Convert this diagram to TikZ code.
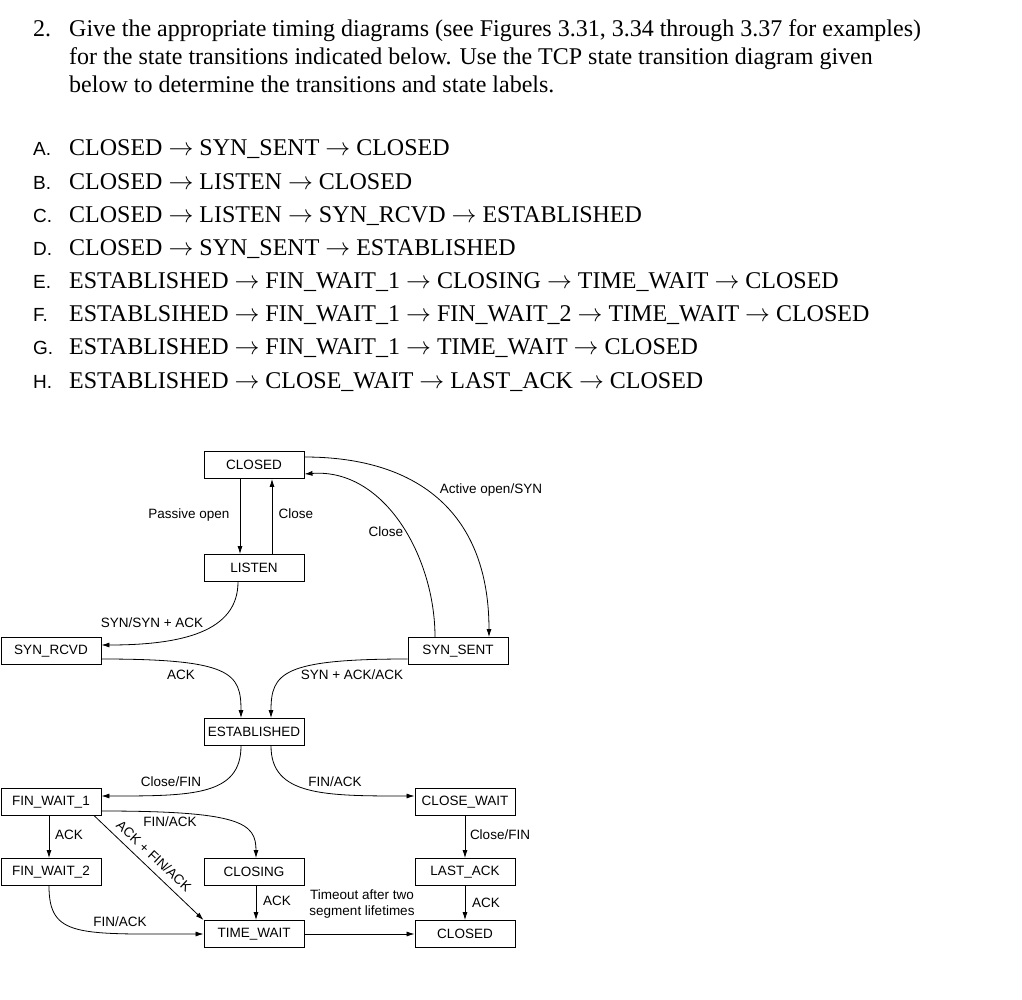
\documentclass[tikz,border=0pt]{standalone}
\usepackage{fontspec}
\setmainfont{Liberation Serif}
\newfontfamily\diagfont{Liberation Sans}
\usetikzlibrary{arrows.meta, positioning}
\tikzset{
  state_box/.style={rectangle, draw=black, line width=0.9pt, minimum width=100pt, minimum height=27pt, inner sep=1pt, font=\diagfont\fontsize{13.5}{15}\selectfont},
  edge_label/.style={inner sep=0pt, align=center, font=\diagfont\fontsize{13.5}{15}\selectfont},
  arrow/.style={-{Latex[length=8pt, width=5pt]}, line width=0.8pt, black},
  task_text/.style={anchor=base west, inner sep=0pt, font=\fontsize{24}{28}\selectfont},
  task_letter/.style={anchor=base west, inner sep=0pt, font=\diagfont\fontsize{19}{22}\selectfont}
}
\newcommand{\tto}{ $\rightarrow$ }

\begin{document}
\begin{tikzpicture}[x=1pt, y=-1pt]

  % --- Page ---
  \fill[white] (0,0) rectangle (1022,1000);
  \useasboundingbox (0,0) rectangle (1022,1000);

  % --- Question ---
  \node[task_text] (q_num) at (33,37) {2.};
  \node[task_text] (q_line1) at (69,37) {Give the appropriate timing diagrams (see Figures 3.31, 3.34 through 3.37 for examples)};
  \node[task_text] (q_line2) at (69,65) {for the state transitions indicated below. Use the TCP state transition diagram given};
  \node[task_text] (q_line3) at (69,93) {below to determine the transitions and state labels.};

  % --- Transition list ---
  \foreach \lt/\txt [count=\i] in {
      A/{CLOSED\tto SYN\_SENT\tto CLOSED},
      B/{CLOSED\tto LISTEN\tto CLOSED},
      C/{CLOSED\tto LISTEN\tto SYN\_RCVD\tto ESTABLISHED},
      D/{CLOSED\tto SYN\_SENT\tto ESTABLISHED},
      E/{ESTABLISHED\tto FIN\_WAIT\_1\tto CLOSING\tto TIME\_WAIT\tto CLOSED},
      F/{ESTABLSIHED\tto FIN\_WAIT\_1\tto FIN\_WAIT\_2\tto TIME\_WAIT\tto CLOSED},
      G/{ESTABLISHED\tto FIN\_WAIT\_1\tto TIME\_WAIT\tto CLOSED},
      H/{ESTABLISHED\tto CLOSE\_WAIT\tto LAST\_ACK\tto CLOSED}} {
    \node[task_letter] (letter-\i) at (33, {156 + (\i-1)*33.15}) {\lt.};
    \node[task_text] (task-\i) at (69, {156 + (\i-1)*33.15}) {\txt};
  }

  % --- States ---
  \node[state_box] (closed_top) at (254,465) {CLOSED};
  \node[state_box] (listen) at (254,568) {LISTEN};
  \node[state_box] (syn_rcvd) at (51,651) {SYN\_RCVD};
  \node[state_box] (syn_sent) at (458,651) {SYN\_SENT};
  \node[state_box] (established) at (254,732) {ESTABLISHED};
  \node[state_box] (fin_wait1) at (51,802) {FIN\_WAIT\_1};
  \node[state_box] (close_wait) at (465,802) {CLOSE\_WAIT};
  \node[state_box] (fin_wait2) at (51,872) {FIN\_WAIT\_2};
  \node[state_box] (closing) at (254,872) {CLOSING};
  \node[state_box] (last_ack) at (465,872) {LAST\_ACK};
  \node[state_box] (time_wait) at (254,934) {TIME\_WAIT};
  \node[state_box] (closed_bot) at (465,934) {CLOSED};

  % --- Connection set-up ---
  \draw[arrow] ([xshift=-14pt]closed_top.south) -- ([xshift=-14pt]listen.north);
  \draw[arrow] ([xshift=18pt]listen.north) -- ([xshift=18pt]closed_top.south);
  \draw[arrow] ([yshift=8pt]closed_top.east) .. controls +(116,0) and +(0,-122) .. ([xshift=31pt]syn_sent.north);
  \draw[arrow] ([xshift=-23pt]syn_sent.north) .. controls +(0,-80) and +(80,-6) .. ([yshift=-9pt]closed_top.east);
  \draw[arrow] ([xshift=-16pt]listen.south) .. controls +(0,50) and +(80,0) .. ([yshift=6pt]syn_rcvd.east);
  \draw[arrow] ([yshift=-8pt]syn_rcvd.east) .. controls +(130,0) and +(0,-45) .. ([xshift=-13pt]established.north);
  \draw[arrow] ([yshift=-8pt]syn_sent.west) .. controls +(-125,0) and +(0,-45) .. ([xshift=17pt]established.north);

  \node[edge_label] (lbl_passive) at (189,515) {Passive open};
  \node[edge_label] (lbl_close1) at (296,514) {Close};
  \node[edge_label] (lbl_active) at (491,490) {Active open/SYN};
  \node[edge_label] (lbl_close2) at (386,532) {Close};
  \node[edge_label] (lbl_synsyn) at (152,623) {SYN/SYN + ACK};
  \node[edge_label] (lbl_ack1) at (181,675) {ACK};
  \node[edge_label] (lbl_synack) at (352,675) {SYN + ACK/ACK};

  % --- Connection release ---
  \draw[arrow] ([xshift=-13pt]established.south) .. controls +(0,50) and +(90,0) .. ([yshift=6pt]fin_wait1.east);
  \draw[arrow] ([xshift=17pt]established.south) .. controls +(0,50) and +(-90,0) .. ([yshift=6pt]close_wait.west);
  \draw[arrow] ([yshift=-9pt]fin_wait1.east) .. controls +(140,0) and +(0,-35) .. ([xshift=2pt]closing.north);
  \draw[arrow] ([xshift=-2pt]fin_wait1.south) -- ([xshift=-2pt]fin_wait2.north);
  \draw[arrow] ([xshift=-7pt]fin_wait1.south east) -- (time_wait.north west);
  \draw[arrow] ([xshift=-2pt]fin_wait2.south) .. controls +(0,52) and +(-125,0) .. (time_wait.west);
  \draw[arrow] ([xshift=2pt]closing.south) -- ([xshift=2pt]time_wait.north);
  \draw[arrow] (time_wait.east) -- (closed_bot.west);
  \draw[arrow] (close_wait.south) -- (last_ack.north);
  \draw[arrow] (last_ack.south) -- (closed_bot.north);

  \node[edge_label] (lbl_closefin1) at (171,782) {Close/FIN};
  \node[edge_label] (lbl_finack1) at (335,782) {FIN/ACK};
  \node[edge_label] (lbl_finack2) at (170,822) {FIN/ACK};
  \node[edge_label] (lbl_ack2) at (69,835) {ACK};
  \node[edge_label, rotate=-43] (lbl_ackfin) at (154,856) {ACK + FIN/ACK};
  \node[edge_label] (lbl_closefin2) at (500,835) {Close/FIN};
  \node[edge_label] (lbl_finack3) at (120,922) {FIN/ACK};
  \node[edge_label] (lbl_ack3) at (277,901) {ACK};
  \node[edge_label] (lbl_timeout) at (362,904) {Timeout after two\\segment lifetimes};
  \node[edge_label] (lbl_ack4) at (486,903) {ACK};

\end{tikzpicture}
\end{document}
